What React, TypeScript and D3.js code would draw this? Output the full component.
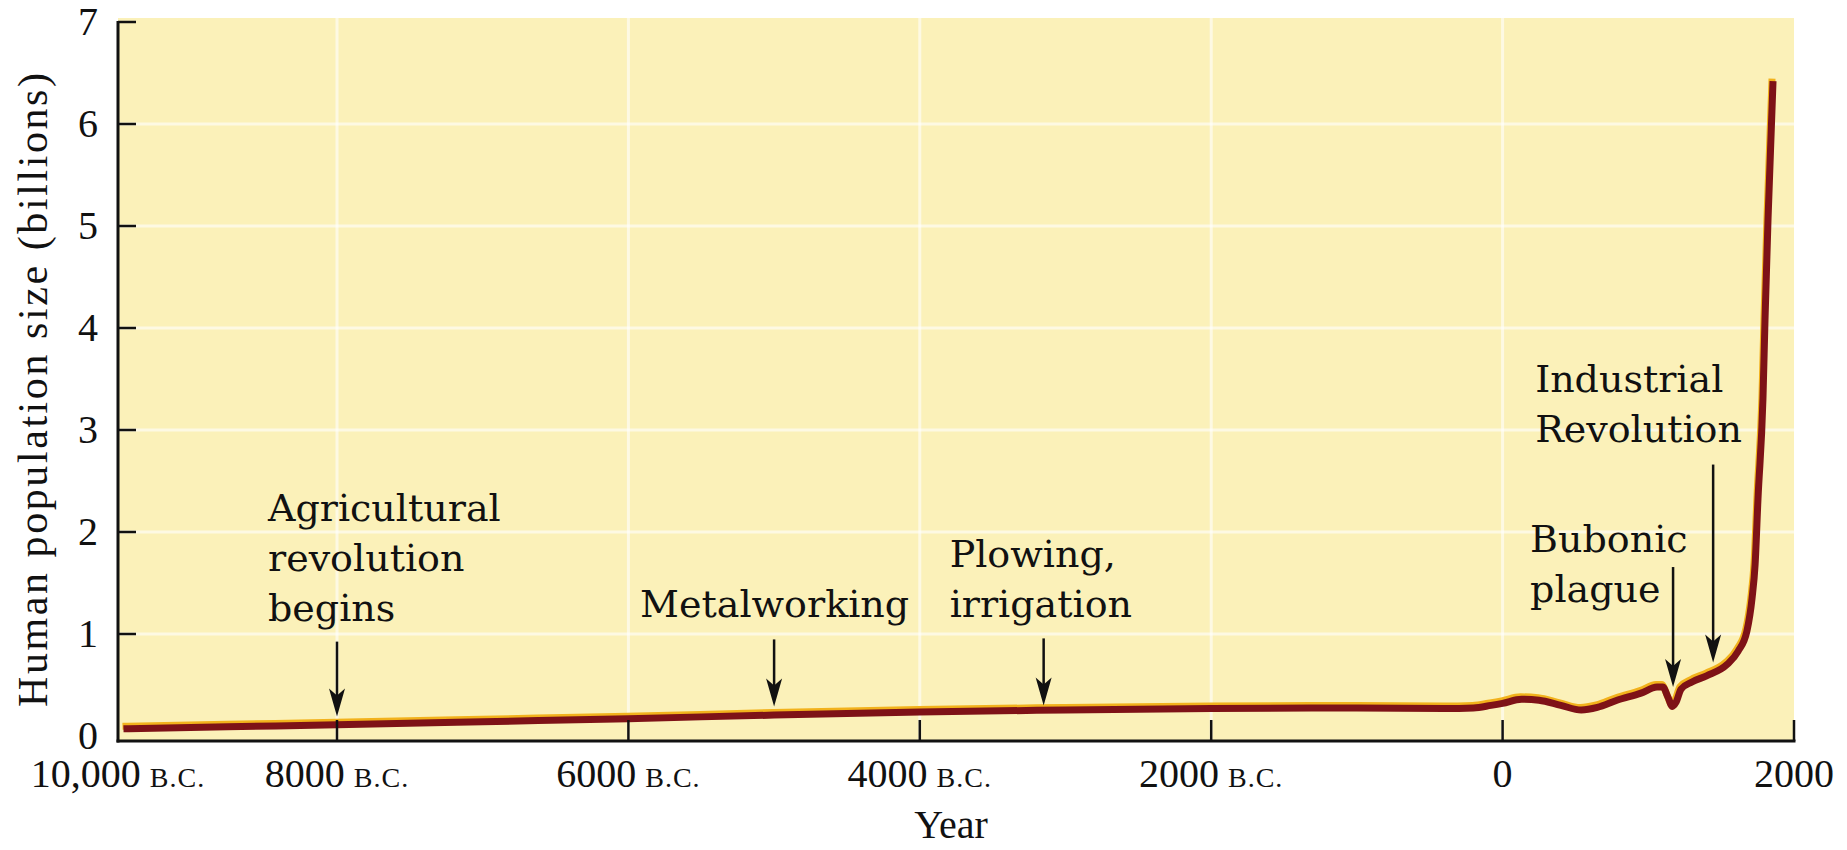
import React from 'react';
import * as d3 from 'd3';

// ---- data ----
const years: number[] = [
  -9950, -9000, -8000, -7000, -6000, -5000, -4000, -3000, -2000, -1000,
  -400, -200, -80, 0, 130, 250, 400, 540, 650, 785, 950, 1060, 1100, 1135,
  1165, 1190, 1225, 1300, 1400, 1540, 1616, 1677, 1712, 1733, 1753, 1787,
  1801, 1822, 1856,
];
const population: number[] = [
  0.07, 0.09, 0.11, 0.14, 0.17, 0.205, 0.235, 0.255, 0.27, 0.275,
  0.27, 0.275, 0.30, 0.32, 0.36, 0.35, 0.30, 0.255, 0.28, 0.35, 0.42, 0.48, 0.48, 0.38,
  0.29, 0.33, 0.46, 0.53, 0.59, 0.70, 0.83, 1.03, 1.35, 1.68, 2.33, 3.31,
  4.08, 5.08, 6.42,
];

const xTickYears: number[] = [-10000, -8000, -6000, -4000, -2000, 0, 2000];
const xTickNumbers: string[] = ['10,000', '8000', '6000', '4000', '2000', '0', '2000'];
const xTickEra: string[] = ['B.C.', 'B.C.', 'B.C.', 'B.C.', 'B.C.', '', ''];
const yTicks: number[] = [0, 1, 2, 3, 4, 5, 6, 7];

const eventLines: string[][] = [
  ['Agricultural', 'revolution', 'begins'],
  ['Metalworking'],
  ['Plowing,', 'irrigation'],
  ['Bubonic', 'plague'],
  ['Industrial', 'Revolution'],
];
const eventYears: number[] = [-8000, -5000, -3150, 1170, 1445];
const eventTipValues: number[] = [0.19, 0.29, 0.30, 0.48, 0.72];

// ---- layout ----
const W = 1847;
const H = 850;
const X0 = 118; // y-axis position (10,000 B.C.)
const X1 = 337; // 8000 B.C.
const X2 = 1794; // 2000
const Y0 = 736;
const Y7 = 22;
const AXIS_Y = 741;
const PLOT_TOP = 18;

// per annotation: text x offset from arrow, first baseline, arrow length
const eventLayout = [
  { dx: -69, baseline: 521, len: 75 },
  { dx: -134, baseline: 617, len: 67 },
  { dx: -94, baseline: 567, len: 67 },
  { dx: -143, baseline: 552, len: 120 },
  { dx: -178, baseline: 392, len: 198 },
];

const SERIF = '"Liberation Serif", "Times New Roman", serif';
const ANNO = '"DejaVu Serif", "Liberation Serif", serif';

export default function App() {
  const x = d3.scaleLinear().domain([-10000, -8000, 2000]).range([X0, X1, X2]);
  const y = d3.scaleLinear().domain([0, 7]).range([Y0, Y7]);

  const pts: [number, number][] = years.map((yr, i) => [yr, population[i]]);
  const line = d3
    .line<[number, number]>()
    .x((d) => x(d[0]))
    .y((d) => y(d[1]))
    .curve(d3.curveMonotoneX);
  const pathD = line(pts) || '';

  const gridX = xTickYears.slice(1, -1);
  const gridY = yTicks.slice(1, -1);

  return (
    <svg
      width={W}
      height={H}
      viewBox={`0 0 ${W} ${H}`}
      style={{ position: 'absolute', left: 0, top: 0, display: 'block', background: '#ffffff' }}
    >
      {/* plot background */}
      <rect x={X0} y={PLOT_TOP} width={X2 - X0} height={AXIS_Y - PLOT_TOP} fill="#fbf1b9" />
      {/* grid */}
      {gridY.map((v) => (
        <line key={'gy' + v} x1={X0} x2={X2} y1={y(v)} y2={y(v)} stroke="#ffffff" strokeOpacity={0.6} strokeWidth={3} />
      ))}
      {gridX.map((v) => (
        <line key={'gx' + v} x1={x(v)} x2={x(v)} y1={PLOT_TOP} y2={AXIS_Y} stroke="#ffffff" strokeOpacity={0.6} strokeWidth={3} />
      ))}

      {/* population curve with highlight */}
      <path d={pathD} fill="none" stroke="#f2b21c" strokeWidth={7} transform="translate(-1,-2.5)" />
      <path d={pathD} fill="none" stroke="#7e1217" strokeWidth={7} />

      {/* axes */}
      <line x1={X0} x2={X0} y1={y(7) - 1} y2={AXIS_Y + 1.5} stroke="#111" strokeWidth={3} />
      <line x1={X0 - 1.5} x2={X2 + 1.5} y1={AXIS_Y} y2={AXIS_Y} stroke="#111" strokeWidth={3} />
      {yTicks.slice(1).map((v) => (
        <line key={'yt' + v} x1={X0} x2={X0 + 18} y1={y(v)} y2={y(v)} stroke="#111" strokeWidth={2.5} />
      ))}
      {xTickYears.slice(1).map((v) => (
        <line key={'xt' + v} x1={x(v)} x2={x(v)} y1={AXIS_Y} y2={AXIS_Y - 21} stroke="#111" strokeWidth={2.5} />
      ))}

      {/* y tick labels */}
      {yTicks.map((v) => (
        <text
          key={'yl' + v}
          x={88}
          y={y(v)}
          dy="0.33em"
          textAnchor="middle"
          fontFamily={SERIF}
          fontSize={40}
          fill="#111"
        >
          {v}
        </text>
      ))}

      {/* x tick labels */}
      {xTickYears.map((v, i) => (
        <text key={'xl' + v} x={x(v)} y={787} textAnchor="middle" fontFamily={SERIF} fontSize={40} fill="#111">
          {xTickNumbers[i]}
          {xTickEra[i] ? (
            <tspan fontSize={28} letterSpacing={1} dx={9}>
              {xTickEra[i]}
            </tspan>
          ) : null}
        </text>
      ))}

      {/* axis titles */}
      <text x={951} y={838} textAnchor="middle" fontFamily={SERIF} fontSize={40} fill="#111">
        Year
      </text>
      <text
        transform="translate(47,390) rotate(-90)"
        textAnchor="middle"
        fontFamily={SERIF}
        fontSize={42}
        fill="#111"
        textLength={634}
        lengthAdjust="spacing"
      >
        Human population size (billions)
      </text>

      {/* annotations */}
      {eventLines.map((lines, i) => {
        const ax = x(eventYears[i]);
        const tip = y(eventTipValues[i]);
        const lay = eventLayout[i];
        const top = tip - lay.len;
        return (
          <g key={'ev' + i}>
            {lines.map((t, j) => (
              <text
                key={j}
                x={ax + lay.dx}
                y={lay.baseline + j * 50}
                fontFamily={ANNO}
                fontSize={38}
                fill="#111"
              >
                {t}
              </text>
            ))}
            <line x1={ax} x2={ax} y1={top} y2={tip - 20} stroke="#111" strokeWidth={2.5} />
            <path
              d={`M${ax},${tip} L${ax - 8},${tip - 28} L${ax},${tip - 21} L${ax + 8},${tip - 28} Z`}
              fill="#111"
            />
          </g>
        );
      })}
    </svg>
  );
}
